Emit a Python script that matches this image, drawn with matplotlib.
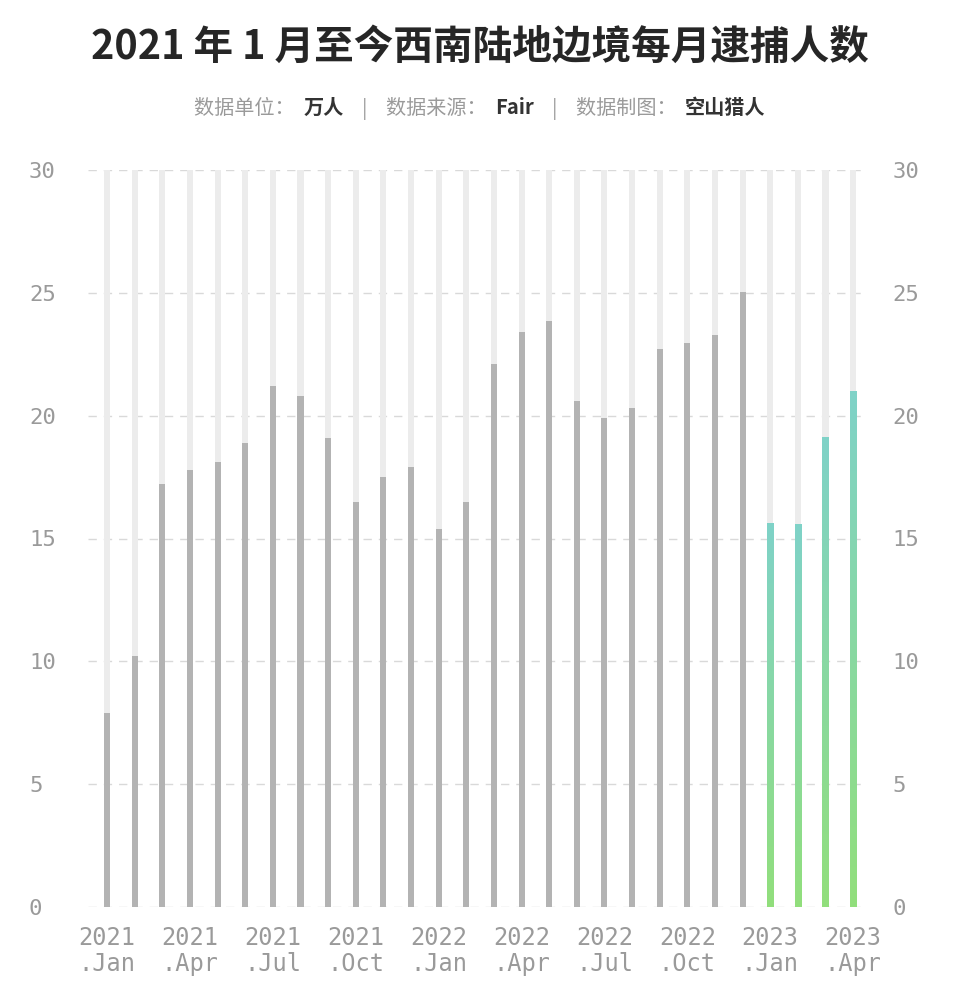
import numpy as np
import matplotlib
matplotlib.use('Agg')
import matplotlib.pyplot as plt
from matplotlib.colors import LinearSegmentedColormap

plt.rcParams['font.family'] = ['Noto Sans CJK SC', 'DejaVu Sans']

# 每月逮捕人数（万人），2021.01 - 2023.04
meses = ['2021.01', '2021.02', '2021.03', '2021.04', '2021.05', '2021.06',
         '2021.07', '2021.08', '2021.09', '2021.10', '2021.11', '2021.12',
         '2022.01', '2022.02', '2022.03', '2022.04', '2022.05', '2022.06',
         '2022.07', '2022.08', '2022.09', '2022.10', '2022.11', '2022.12',
         '2023.01', '2023.02', '2023.03', '2023.04']
valores = [7.9, 10.2, 17.2, 17.8, 18.1, 18.9, 21.2, 20.8, 19.1, 16.5, 17.5, 17.9,
           15.4, 16.5, 22.1, 23.4, 23.85, 20.6, 19.9, 20.3, 22.7, 22.95, 23.3, 25.05,
           15.6, 15.55, 19.1, 21.0]
x_labels = ['2021\n.Jan', '2021\n.Apr', '2021\n.Jul', '2021\n.Oct', '2022\n.Jan',
            '2022\n.Apr', '2022\n.Jul', '2022\n.Oct', '2023\n.Jan', '2023\n.Apr']
y_ticks = [0, 5, 10, 15, 20, 25, 30]

fig = plt.figure(figsize=(9.6, 10), dpi=100)
fig.patch.set_facecolor('white')
ax = fig.add_axes([88/960, 1-907/1000, 777/960, 737/1000])

x = np.arange(len(valores))
w = 0.22
ax.bar(x, [30]*len(x), width=w, color='#ececec', zorder=1)
ax.bar(x[:24], valores[:24], width=w, color='#b3b3b3', zorder=2)

# barras de 2023 com gradiente
grad = np.linspace(0, 1, 256).reshape(-1, 1)
cmap = LinearSegmentedColormap.from_list('g', ['#92df7c', '#7fd2c8'])
for i in range(24, len(valores)):
    ax.imshow(grad, extent=(x[i]-w/2, x[i]+w/2, 0, valores[i]), origin='lower',
              cmap=cmap, aspect='auto', zorder=2)

ax.set_xlim(-0.69, 27.43)
ax.set_ylim(0, 30)
for yv in y_ticks:
    ax.axhline(yv, color='#d9d9d9', lw=1, ls=(0, (6, 5)), zorder=0.5)

ax2 = ax.twinx()
ax2.set_ylim(0, 30)
for a in (ax, ax2):
    for s in a.spines.values():
        s.set_visible(False)

ax.set_xticks(x[::3])
ax.set_xticklabels(x_labels, family='DejaVu Sans Mono', fontsize=17, color='#9a9a9a',
                   linespacing=1.1)
ax.tick_params(axis='x', length=0, pad=14)

ax.set_yticks(y_ticks)
ax.set_yticklabels([str(v) for v in y_ticks], family='DejaVu Sans Mono', fontsize=16,
                   color='#9a9a9a', ha='left')
ax.tick_params(axis='y', length=0, pad=42.5)
ax2.set_yticks(y_ticks)
ax2.set_yticklabels([str(v) for v in y_ticks], family='DejaVu Sans Mono', fontsize=16,
                    color='#9a9a9a')
ax2.tick_params(axis='y', length=0, pad=20)

fig.text(0.5, 1-47/1000, '2021 年 1 月至今西南陆地边境每月逮捕人数', ha='center', va='center',
         fontsize=28.5, fontweight='bold', color='#262626')

# subtitulo em pedaços
partes = [('数据单位：  ', '#9a9a9a', 'normal'), ('万人', '#333333', 'bold'),
          ('    |    ', '#9a9a9a', 'normal'),
          ('数据来源：  ', '#9a9a9a', 'normal'), ('Fair', '#333333', 'bold'),
          ('    |    ', '#9a9a9a', 'normal'),
          ('数据制图：  ', '#9a9a9a', 'normal'), ('空山猎人', '#333333', 'bold')]
r = fig.canvas.get_renderer()
textos = []
for t, c, fw in partes:
    textos.append(fig.text(0, 1-114/1000, t, ha='left', va='baseline', fontsize=14.5,
                           color=c, fontweight=fw))
larguras = [tt.get_window_extent(r).width for tt in textos]
total = sum(larguras)
pos = (960 - total) / 2
for tt, lw_ in zip(textos, larguras):
    tt.set_x(pos / 960)
    pos += lw_

fig.savefig('out.png', dpi=100, facecolor='white')
